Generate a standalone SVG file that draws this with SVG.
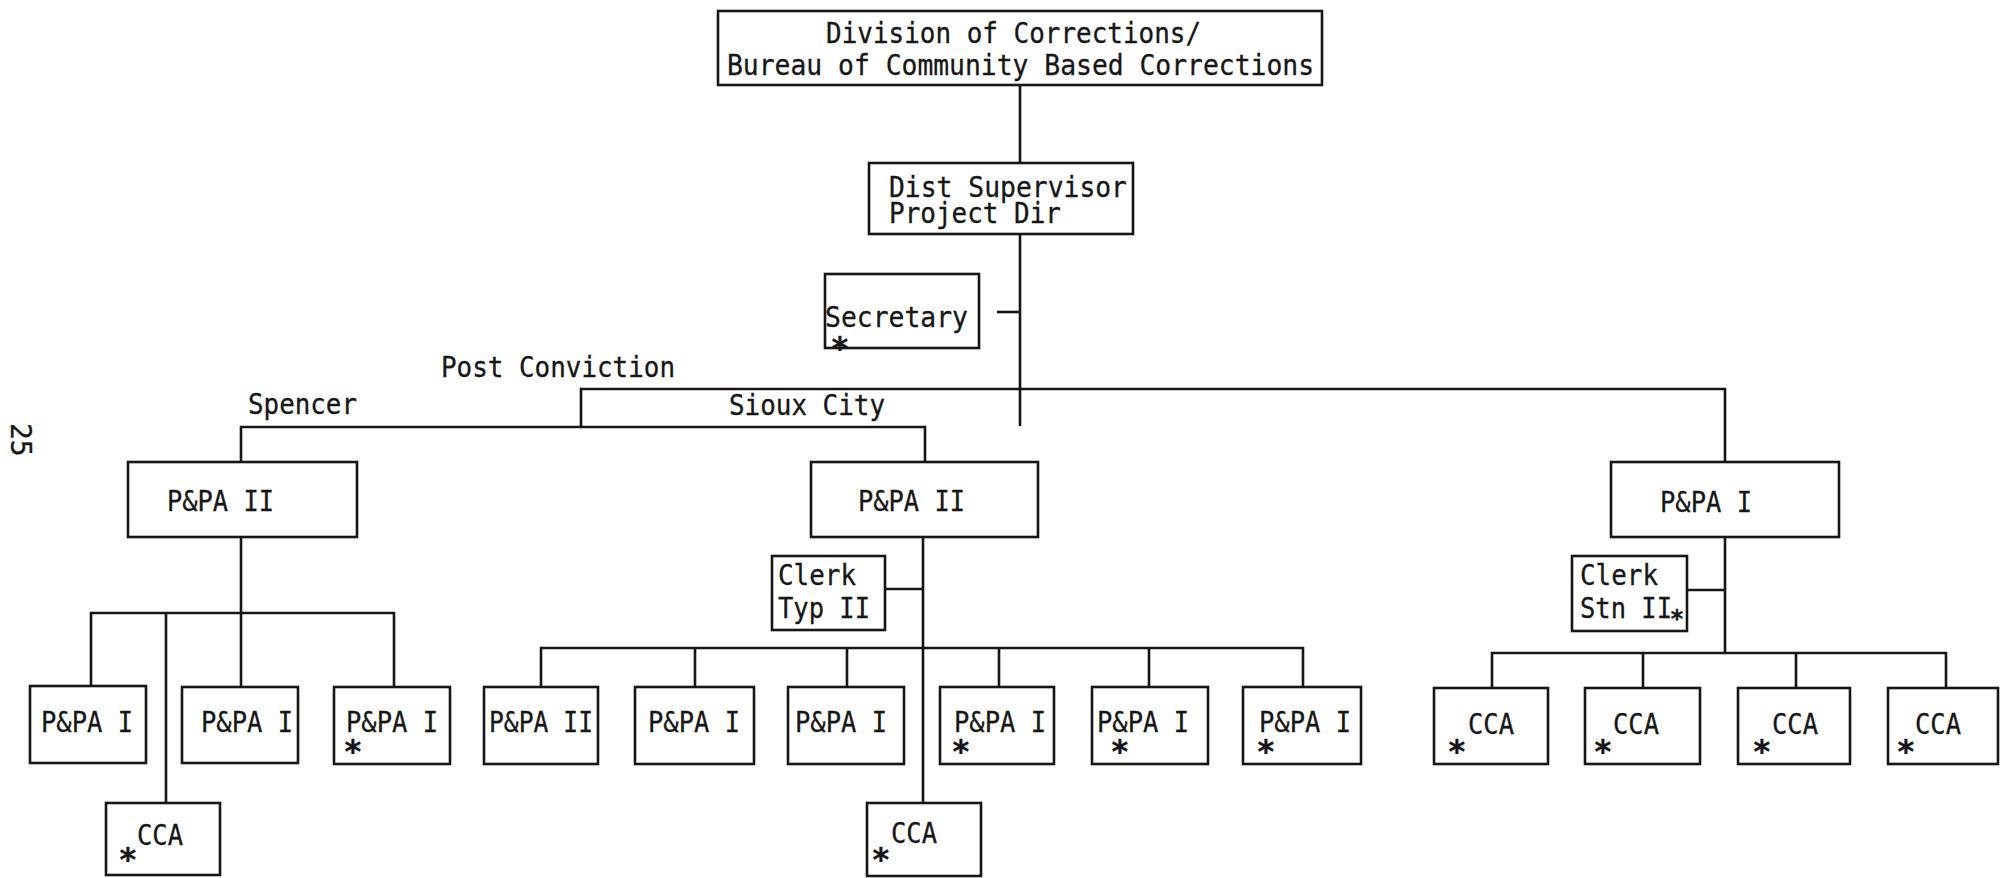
<svg xmlns="http://www.w3.org/2000/svg" width="2001" height="878" viewBox="0 0 2001 878">
  <style>
    .box { fill: none; stroke: #161616; stroke-width: 2.6; }
    .ln { fill: none; stroke: #161616; stroke-width: 2.6; }
    text { font-family: "DejaVu Sans Mono", "Liberation Mono", monospace; font-size: 28px; fill: #161616; stroke: #161616; stroke-width: 0.3; }
    .ast { font-size: 32px; font-weight: bold; text-anchor: middle; }
    .ast-s { font-size: 24px; font-weight: bold; text-anchor: middle; }
  </style>
  <rect x="0" y="0" width="2001" height="878" fill="#ffffff"/>

  <!-- page number -->
  <text transform="translate(11,423) rotate(90)" font-size="30">25</text>

  <!-- connectors -->
  <g id="connectors" class="ln">
    <path d="M1020,85 V163"/>
    <path d="M1020,234 V426"/>
    <path d="M997,312 H1020"/>
    <path d="M581,427 V389 H1725 V462"/>
    <path d="M241,462 V427 H925 V462"/>
    <!-- Spencer unit -->
    <path d="M241,537 V613"/>
    <path d="M91,686 V613 H394 V686"/>
    <path d="M166,613 V803"/>
    <path d="M241,613 V686"/>
    <!-- Sioux City unit -->
    <path d="M923,537 V803"/>
    <path d="M885,589 H923"/>
    <path d="M541,686 V648 H1303 V686"/>
    <path d="M695,648 V686 M847,648 V686 M999,648 V686 M1149,648 V686"/>
    <!-- right unit -->
    <path d="M1725,537 V653"/>
    <path d="M1687,590 H1725"/>
    <path d="M1492,688 V653 H1946 V688"/>
    <path d="M1643,653 V688 M1796,653 V688"/>
  </g>

  <!-- labels -->
  <g id="labels">
    <text x="441" y="377" textLength="234" lengthAdjust="spacingAndGlyphs">Post Conviction</text>
    <text x="248" y="414" textLength="109" lengthAdjust="spacingAndGlyphs">Spencer</text>
    <text x="729" y="415" textLength="156" lengthAdjust="spacingAndGlyphs">Sioux City</text>
  </g>

  <g id="division">
    <rect class="box" x="718" y="11" width="604" height="74"/>
    <text x="826" y="43" textLength="375" lengthAdjust="spacingAndGlyphs">Division of Corrections/</text>
    <text x="727" y="75" textLength="587" lengthAdjust="spacingAndGlyphs">Bureau of Community Based Corrections</text>
  </g>

  <g id="dist-supervisor">
    <rect class="box" x="869" y="163" width="264" height="71"/>
    <text x="889" y="197" textLength="238" lengthAdjust="spacingAndGlyphs">Dist Supervisor</text>
    <text x="889" y="223" textLength="172" lengthAdjust="spacingAndGlyphs">Project Dir</text>
  </g>

  <g id="secretary">
    <rect class="box" x="825" y="274" width="154" height="74"/>
    <text x="825" y="327" textLength="143" lengthAdjust="spacingAndGlyphs">Secretary</text>
    <text class="ast" x="840" y="359">*</text>
  </g>

  <g id="spencer-ppa2">
    <rect class="box" x="128" y="462" width="229" height="75"/>
    <text x="167" y="511" textLength="107" lengthAdjust="spacingAndGlyphs">P&amp;PA II</text>
  </g>

  <g id="sioux-ppa2">
    <rect class="box" x="811" y="462" width="227" height="75"/>
    <text x="858" y="511" textLength="107" lengthAdjust="spacingAndGlyphs">P&amp;PA II</text>
  </g>

  <g id="right-ppa1">
    <rect class="box" x="1611" y="462" width="228" height="75"/>
    <text x="1660" y="512" textLength="92" lengthAdjust="spacingAndGlyphs">P&amp;PA I</text>
  </g>

  <g id="clerk-typ">
    <rect class="box" x="772" y="556" width="113" height="74"/>
    <text x="778" y="585" textLength="78" lengthAdjust="spacingAndGlyphs">Clerk</text>
    <text x="778" y="618" textLength="92" lengthAdjust="spacingAndGlyphs">Typ II</text>
  </g>

  <g id="clerk-stn">
    <rect class="box" x="1572" y="556" width="115" height="75"/>
    <text x="1580" y="585" textLength="78" lengthAdjust="spacingAndGlyphs">Clerk</text>
    <text x="1580" y="618" textLength="92" lengthAdjust="spacingAndGlyphs">Stn II</text>
    <text class="ast-s" x="1677" y="627">*</text>
  </g>

  <!-- Spencer staff -->
  <g id="spencer-ppa1-a">
    <rect class="box" x="30" y="686" width="116" height="77"/>
    <text x="41" y="732" textLength="92" lengthAdjust="spacingAndGlyphs">P&amp;PA I</text>
  </g>
  <g id="spencer-ppa1-b">
    <rect class="box" x="182" y="687" width="116" height="76"/>
    <text x="201" y="732" textLength="92" lengthAdjust="spacingAndGlyphs">P&amp;PA I</text>
  </g>
  <g id="spencer-ppa1-c">
    <rect class="box" x="334" y="687" width="116" height="77"/>
    <text x="346" y="732" textLength="92" lengthAdjust="spacingAndGlyphs">P&amp;PA I</text>
    <text class="ast" x="353" y="762">*</text>
  </g>
  <g id="spencer-cca">
    <rect class="box" x="106" y="803" width="114" height="72"/>
    <text x="137" y="845" textLength="46" lengthAdjust="spacingAndGlyphs">CCA</text>
    <text class="ast" x="128" y="870">*</text>
  </g>

  <!-- Sioux City staff -->
  <g id="sioux-ppa2-b">
    <rect class="box" x="484" y="687" width="114" height="77"/>
    <text x="489" y="732" textLength="104" lengthAdjust="spacingAndGlyphs">P&amp;PA II</text>
  </g>
  <g id="sioux-ppa1-a">
    <rect class="box" x="635" y="687" width="119" height="77"/>
    <text x="648" y="732" textLength="92" lengthAdjust="spacingAndGlyphs">P&amp;PA I</text>
  </g>
  <g id="sioux-ppa1-b">
    <rect class="box" x="788" y="687" width="116" height="77"/>
    <text x="795" y="732" textLength="92" lengthAdjust="spacingAndGlyphs">P&amp;PA I</text>
  </g>
  <g id="sioux-ppa1-c">
    <rect class="box" x="940" y="687" width="114" height="77"/>
    <text x="954" y="732" textLength="92" lengthAdjust="spacingAndGlyphs">P&amp;PA I</text>
    <text class="ast" x="961" y="762">*</text>
  </g>
  <g id="sioux-ppa1-d">
    <rect class="box" x="1092" y="687" width="116" height="77"/>
    <text x="1097" y="732" textLength="92" lengthAdjust="spacingAndGlyphs">P&amp;PA I</text>
    <text class="ast" x="1120" y="762">*</text>
  </g>
  <g id="sioux-ppa1-e">
    <rect class="box" x="1243" y="687" width="118" height="77"/>
    <text x="1259" y="732" textLength="92" lengthAdjust="spacingAndGlyphs">P&amp;PA I</text>
    <text class="ast" x="1266" y="762">*</text>
  </g>
  <g id="sioux-cca">
    <rect class="box" x="867" y="803" width="114" height="73"/>
    <text x="891" y="843" textLength="46" lengthAdjust="spacingAndGlyphs">CCA</text>
    <text class="ast" x="881" y="870">*</text>
  </g>

  <!-- right unit staff -->
  <g id="right-cca-1">
    <rect class="box" x="1434" y="688" width="114" height="76"/>
    <text x="1468" y="734" textLength="46" lengthAdjust="spacingAndGlyphs">CCA</text>
    <text class="ast" x="1457" y="762">*</text>
  </g>
  <g id="right-cca-2">
    <rect class="box" x="1585" y="688" width="115" height="76"/>
    <text x="1613" y="734" textLength="46" lengthAdjust="spacingAndGlyphs">CCA</text>
    <text class="ast" x="1603" y="762">*</text>
  </g>
  <g id="right-cca-3">
    <rect class="box" x="1738" y="688" width="112" height="76"/>
    <text x="1772" y="734" textLength="46" lengthAdjust="spacingAndGlyphs">CCA</text>
    <text class="ast" x="1762" y="762">*</text>
  </g>
  <g id="right-cca-4">
    <rect class="box" x="1888" y="688" width="110" height="76"/>
    <text x="1915" y="734" textLength="46" lengthAdjust="spacingAndGlyphs">CCA</text>
    <text class="ast" x="1906" y="762">*</text>
  </g>
</svg>
